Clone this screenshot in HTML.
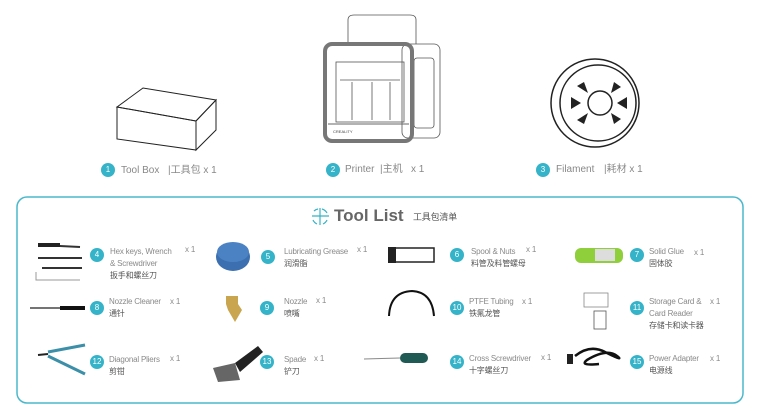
<!DOCTYPE html>
<html><head><meta charset="utf-8"><style>
body{margin:0;width:760px;height:411px;background:#fff;position:relative;overflow:hidden;font-family:"Liberation Sans","Noto Sans CJK SC",sans-serif;}
.t{position:absolute;white-space:nowrap;color:#8a8a8a;font-size:8px;line-height:12px;letter-spacing:-0.2px;}
.c{color:#555;}
.b{position:absolute;width:14px;height:14px;border-radius:50%;background:#35b3c8;color:#fff;font-size:8px;line-height:14px;text-align:center;}
.big{font-size:10px;color:#888;letter-spacing:0;}
</style></head><body>
<svg width="760" height="411" style="position:absolute;left:0;top:0">
<g fill="none" stroke="#222" stroke-width="1">
<polygon points="117,107 143,88 216,100 196,121"/>
<polygon points="117,107 196,121 196,150 117,139"/>
<polygon points="196,121 216,100 216,130 196,150"/>
</g>
<g fill="none" stroke="#555" stroke-width="0.8">
<path d="M348,44 L348,20 Q348,15 354,15 L410,15 Q416,15 416,20 L416,44"/>
<rect x="402" y="44" width="38" height="94" rx="6"/>
<rect x="414" y="58" width="20" height="70" rx="3"/>
<rect x="336" y="62" width="68" height="60"/>
<line x1="340" y1="80" x2="400" y2="80"/>
<line x1="352" y1="82" x2="352" y2="120"/><line x1="390" y1="82" x2="390" y2="120"/>
<line x1="372" y1="82" x2="372" y2="120"/>
</g>
<rect x="325" y="44" width="87" height="97" rx="7" fill="none" stroke="#777" stroke-width="4"/>
<line x1="328" y1="124" x2="409" y2="124" stroke="#666" stroke-width="1"/>
<text x="333" y="133" font-size="4" fill="#444" font-family="Liberation Sans">CREALITY</text>
<g stroke="#222" fill="none" stroke-width="1.5">
<circle cx="595" cy="103" r="44"/>
<circle cx="598" cy="103" r="38"/>
<circle cx="600" cy="103" r="12"/>
</g>
<g fill="#222">
<polygon points="577,86 584,82 588,93"/><polygon points="614,82 621,87 611,93"/>
<polygon points="571,97 581,103 571,109"/><polygon points="627,97 627,109 617,103"/>
<polygon points="577,120 584,124 588,113"/><polygon points="614,124 621,119 611,113"/>
</g>
<rect x="17" y="197" width="726" height="206" rx="10" fill="none" stroke="#4ab8cc" stroke-width="1.5"/>
<g stroke="#35b3c8" stroke-width="1.2" fill="none">
<line x1="320" y1="208" x2="320" y2="225"/><line x1="312" y1="216" x2="329" y2="216"/>
<path d="M314,211 A8,8 0 0 1 318,209" /><path d="M322,209 A8,8 0 0 1 327,213"/>
<path d="M313,220 A8,8 0 0 0 317,224"/><path d="M323,224 A8,8 0 0 0 327,220"/>
</g>
<g stroke="#333" stroke-width="2" fill="none">
<path d="M40,245 L80,247"/><path d="M38,258 L82,258"/><path d="M42,268 L82,268"/>
<path d="M36,272 L36,280 L80,280" stroke-width="1" stroke="#999"/>
</g>
<rect x="38" y="243" width="22" height="4" fill="#222"/>
<ellipse cx="233" cy="257" rx="17" ry="14" fill="#3b6fb0"/>
<ellipse cx="233" cy="252" rx="16" ry="10" fill="#4b82c4"/>
<rect x="392" y="248" width="42" height="14" fill="none" stroke="#222" stroke-width="1.5"/>
<rect x="388" y="247" width="8" height="16" fill="#222"/>
<rect x="575" y="248" width="48" height="15" rx="6" fill="#8fcf3c"/>
<rect x="595" y="249" width="20" height="12" fill="#ddd"/>
<line x1="30" y1="308" x2="85" y2="308" stroke="#222" stroke-width="1.2"/>
<rect x="60" y="306" width="25" height="4" fill="#111"/>
<polygon points="226,296 238,296 238,304 242,310 235,322 228,310 226,304" fill="#c9a550"/>
<path d="M389,316 Q390,292 412,291 Q432,292 434,316" fill="none" stroke="#111" stroke-width="2"/>
<rect x="584" y="293" width="24" height="14" fill="none" stroke="#888" stroke-width="0.8"/>
<rect x="594" y="311" width="12" height="18" fill="none" stroke="#555" stroke-width="0.8"/>
<g stroke="#3c8fa8" stroke-width="3" fill="none"><path d="M48,352 L85,345"/><path d="M48,356 L85,374"/></g>
<path d="M38,355 L48,354" stroke="#222" stroke-width="2"/>
<polygon points="213,368 235,363 240,380 218,382" fill="#666"/>
<polygon points="235,363 258,346 263,352 240,372" fill="#222"/>
<line x1="364" y1="359" x2="400" y2="358" stroke="#888" stroke-width="1"/>
<rect x="400" y="353" width="28" height="10" rx="5" fill="#1f5a55"/>
<path d="M575,356 q15,-12 30,-4 q20,10 12,4 q-10,-8 -30,4 q-8,6 12,4" fill="none" stroke="#111" stroke-width="2.5"/>
<rect x="567" y="354" width="6" height="10" fill="#222"/>
</svg>

<div class="b" style="left:101px;top:163px">1</div><div class="t big" style="left:121px;top:165px">Tool Box</div><div class="t big c" style="left:168px;top:165px">|工具包 <span style="color:#888">x 1</span></div>
<div class="b" style="left:326px;top:163px">2</div><div class="t big" style="left:345px;top:164px">Printer</div><div class="t big c" style="left:380px;top:164px">|主机 &nbsp;&nbsp;<span style="color:#888">x 1</span></div>
<div class="b" style="left:536px;top:163px">3</div><div class="t big" style="left:556px;top:164px">Filament</div><div class="t big c" style="left:604px;top:164px">|耗材 <span style="color:#888">x 1</span></div>

<div class="t" style="left:334px;top:206px;font-size:17px;line-height:20px;font-weight:bold;color:#666;letter-spacing:0">Tool List</div>
<div class="t c" style="left:413px;top:211px;font-size:9px">工具包清单</div>

<div class="b" style="left:90px;top:248px">4</div><div class="t" style="left:110px;top:246px">Hex keys, Wrench<br>&amp; Screwdriver<br><span class="c">扳手和螺丝刀</span></div><div class="t" style="left:185px;top:244px">x 1</div>
<div class="b" style="left:261px;top:250px">5</div><div class="t" style="left:284px;top:246px">Lubricating Grease<br><span class="c">润滑脂</span></div><div class="t" style="left:357px;top:244px">x 1</div>
<div class="b" style="left:450px;top:248px">6</div><div class="t" style="left:471px;top:246px">Spool &amp; Nuts<br><span class="c">料管及料管螺母</span></div><div class="t" style="left:526px;top:244px">x 1</div>
<div class="b" style="left:630px;top:248px">7</div><div class="t" style="left:649px;top:246px">Solid Glue<br><span class="c">固体胶</span></div><div class="t" style="left:694px;top:247px">x 1</div>

<div class="b" style="left:90px;top:301px">8</div><div class="t" style="left:109px;top:296px">Nozzle Cleaner<br><span class="c">通针</span></div><div class="t" style="left:170px;top:296px">x 1</div>
<div class="b" style="left:260px;top:301px">9</div><div class="t" style="left:284px;top:296px">Nozzle<br><span class="c">喷嘴</span></div><div class="t" style="left:316px;top:295px">x 1</div>
<div class="b" style="left:450px;top:301px">10</div><div class="t" style="left:469px;top:296px">PTFE Tubing<br><span class="c">铁氟龙管</span></div><div class="t" style="left:522px;top:296px">x 1</div>
<div class="b" style="left:630px;top:301px">11</div><div class="t" style="left:649px;top:296px">Storage Card &amp;<br>Card Reader<br><span class="c">存储卡和读卡器</span></div><div class="t" style="left:710px;top:296px">x 1</div>

<div class="b" style="left:90px;top:355px">12</div><div class="t" style="left:109px;top:354px">Diagonal Pliers<br><span class="c">剪钳</span></div><div class="t" style="left:170px;top:353px">x 1</div>
<div class="b" style="left:260px;top:355px">13</div><div class="t" style="left:284px;top:354px">Spade<br><span class="c">铲刀</span></div><div class="t" style="left:314px;top:353px">x 1</div>
<div class="b" style="left:450px;top:355px">14</div><div class="t" style="left:469px;top:353px">Cross Screwdriver<br><span class="c">十字螺丝刀</span></div><div class="t" style="left:541px;top:352px">x 1</div>
<div class="b" style="left:630px;top:355px">15</div><div class="t" style="left:649px;top:353px">Power Adapter<br><span class="c">电源线</span></div><div class="t" style="left:710px;top:353px">x 1</div>
</body></html>
